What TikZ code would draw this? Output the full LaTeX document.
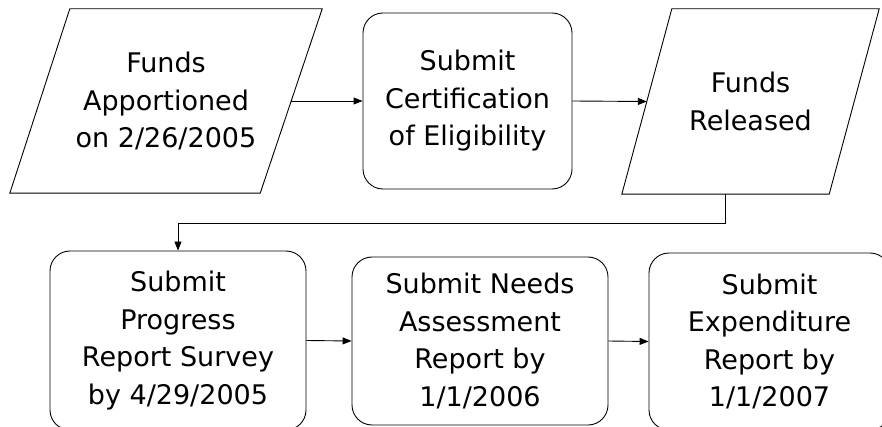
\documentclass[tikz,border=0pt]{standalone}
\usepackage{fontspec}
\setmainfont{DejaVu Sans}
\usetikzlibrary{arrows.meta,calc}
\begin{document}
\begin{tikzpicture}[x=1pt,y=-1pt,
  txt/.style={font=\fontsize{27}{37.5}\selectfont, align=center, inner sep=0pt},
  rbox/.style={txt, draw, line width=0.9pt, rounded corners=20pt},
  para/.style={txt, draw=none},
  conn/.style={line width=0.9pt},
  arr/.style={conn, -{Triangle[length=9pt,width=7pt]}}]
\useasboundingbox (0,0) rectangle (882,427);
% top row
\node[para, minimum width=312pt, minimum height=184pt] (p1) at (166,101) {Funds\\Apportioned\\on 2/26/2005};
\draw[conn] ($(p1.north west)+(60,0)$) -- (p1.north east) -- ($(p1.south east)+(-62,0)$) -- (p1.south west) -- cycle;
\coordinate (p1r) at ($(p1.east)+(-31,0)$);
\node[rbox, minimum width=209pt, minimum height=176pt] (b2) at (467.5,101) {Submit\\Certification\\of Eligibility};
\node[para, minimum width=257pt, minimum height=185pt] (p2) at (750.5,101.5) {Funds\\Released};
\draw[conn] ($(p2.north west)+(50,0)$) -- (p2.north east) -- ($(p2.south east)+(-50,0)$) -- (p2.south west) -- cycle;
\coordinate (p2l) at ($(p2.west)+(25,0)$);
\coordinate (p2b) at ($(p2.south)+(-25,0)$);
% bottom row
\node[rbox, minimum width=256pt, minimum height=179pt] (b4) at (178,340.5) {Submit\\Progress\\Report Survey\\by 4/29/2005};
\node[rbox, minimum width=256pt, minimum height=168pt] (b5) at (480,341) {Submit Needs\\Assessment\\Report by\\1/1/2006};
\node[rbox, minimum width=241pt, minimum height=177pt] (b6) at (769.5,341.5) {Submit\\Expenditure\\Report by\\1/1/2007};
% connectors
\draw[arr] (p1r) -- (b2.west);
\draw[arr] (b2.east) -- (p2l);
\draw[arr] (p2b) -- ++(0,29) -| (b4.north);
\draw[arr] (b4.east) -- (b5.west);
\draw[arr] (b5.east) -- (b6.west);
\end{tikzpicture}
\end{document}
